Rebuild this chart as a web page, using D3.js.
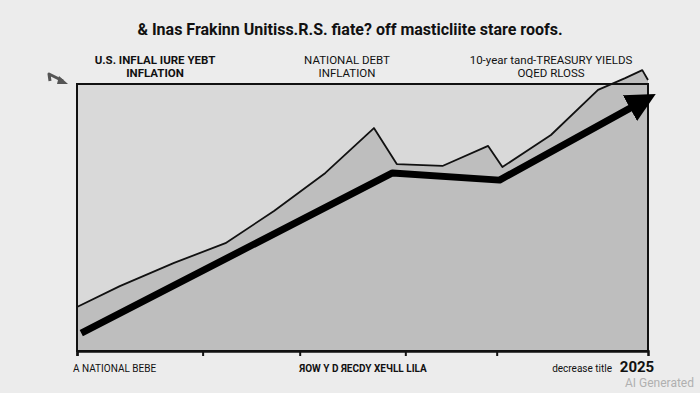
<!DOCTYPE html>
<html>
<head>
<meta charset="utf-8">
<script src="https://cdn.jsdelivr.net/npm/d3@7"></script>
<style>
  body { margin: 0; background: #ececec; }
  svg { display: block; }
  text { font-family: "Liberation Sans Narrow", "Roboto", "DejaVu Sans Condensed", sans-serif; fill: #111; }
</style>
</head>
<body>
<div id="chart"></div>
<script>
// values (x = year, y = index 0-100)
var years    = [2005, 2006.5, 2008.4, 2010.2, 2011.9, 2013.7, 2015.4, 2016.2, 2017.8, 2019.4, 2019.9, 2021.6, 2023.25, 2024.2, 2024.8, 2025];
var yields   = [16.5, 24.3, 33, 40.4, 52.4, 66.7, 83.5, 70, 69.3, 76.8, 68.9, 80.9, 97.8, 102.2, 105.2, 101.5];
var debtYears = [2005.15, 2016.05, 2019.8, 2024.55];
var debt      = [6.7, 66.7, 64, 92];
var tickYears = [2005, 2009.4, 2012.8, 2016.5, 2019.7];

var headers = [
  {x: 155, lines: ["U.S. INFLAL IURE YEBT", "INFLATION"], bold: [true, true]},
  {x: 347, lines: ["NATIONAL DEBT", "INFLATION"], bold: [false, false]},
  {x: 551, lines: ["10-year tand-TREASURY YIELDS", "OQED RLOSS"], bold: [false, false]}
];

var width = 700, height = 393;
var margin = {top: 84, right: 52, bottom: 42, left: 77};

var svg = d3.select("#chart").append("svg")
  .attr("width", width).attr("height", height);

var x = d3.scaleLinear().domain([2005, 2025]).range([margin.left, width - margin.right]);
var y = d3.scaleLinear().domain([0, 100]).range([height - margin.bottom, margin.top]);

// frame background
svg.append("rect")
  .attr("x", x(2005)).attr("y", y(100))
  .attr("width", x(2025) - x(2005)).attr("height", y(0) - y(100))
  .attr("fill", "#d9d9d9");

var pts = years.map(function(d, i){ return [d, yields[i]]; });

var area = d3.area()
  .x(function(d){ return x(d[0]); })
  .y0(y(0))
  .y1(function(d){ return y(d[1]); });

svg.append("path")
  .datum(pts)
  .attr("d", area)
  .attr("fill", "#bebebe");

svg.append("path")
  .datum(pts)
  .attr("d", d3.line().x(function(d){ return x(d[0]); }).y(function(d){ return y(d[1]); }))
  .attr("fill", "none")
  .attr("stroke", "#111")
  .attr("stroke-width", 1.8)
  .attr("stroke-linejoin", "round");

// frame
svg.append("rect")
  .attr("x", x(2005)).attr("y", y(100))
  .attr("width", x(2025) - x(2005)).attr("height", y(0) - y(100))
  .attr("fill", "none")
  .attr("stroke", "#111")
  .attr("stroke-width", 2);

// bottom axis
var axis = svg.append("g")
  .attr("transform", "translate(0," + y(0) + ")")
  .call(d3.axisBottom(x).tickValues(tickYears).tickSize(5).tickFormat(""));
axis.select(".domain").attr("stroke", "#111").attr("stroke-width", 2.5);
axis.selectAll(".tick line").attr("stroke", "#111").attr("stroke-width", 2);

// thick arrow
svg.append("defs").append("marker")
  .attr("id", "head")
  .attr("viewBox", "0 0 10 10")
  .attr("refX", 2).attr("refY", 5)
  .attr("markerWidth", 4.2).attr("markerHeight", 4.2)
  .attr("orient", "auto")
  .append("path")
  .attr("d", "M0,0 L10,5 L0,10 Z")
  .attr("fill", "#000");

var dpts = debtYears.map(function(d, i){ return [d, debt[i]]; });
svg.append("path")
  .datum(dpts)
  .attr("d", d3.line().x(function(d){ return x(d[0]); }).y(function(d){ return y(d[1]); }))
  .attr("fill", "none")
  .attr("stroke", "#000")
  .attr("stroke-width", 7)
  .attr("stroke-linejoin", "round")
  .attr("marker-end", "url(#head)");

// little hook arrow top left
svg.append("path")
  .attr("d", "M50,81 L49,74 L63,81")
  .attr("fill", "none")
  .attr("stroke", "#555")
  .attr("stroke-width", 3)
  .attr("stroke-linejoin", "round");
svg.append("path")
  .attr("d", "M59,76 L68,84 L57,84 Z")
  .attr("fill", "#555");

// title
svg.append("text")
  .attr("x", 350).attr("y", 35)
  .attr("text-anchor", "middle")
  .attr("font-size", 16).attr("font-weight", "bold")
  .text("& Inas Frakinn Unitiss.R.S. fiate? off masticliite stare roofs.");

// header labels
headers.forEach(function(h){
  h.lines.forEach(function(l, i){
    svg.append("text")
      .attr("x", h.x).attr("y", 64 + i * 13)
      .attr("text-anchor", "middle")
      .attr("font-size", 11.5)
      .attr("font-weight", h.bold[i] ? "bold" : "normal")
      .text(l);
  });
});

// bottom labels
svg.append("text").attr("x", 73).attr("y", 372)
  .attr("font-size", 10).text("A NATIONAL BEBE");
svg.append("text").attr("x", 363).attr("y", 372)
  .attr("text-anchor", "middle").attr("font-size", 10).attr("font-weight", "bold")
  .text("ЯОW Y D ЯECDY XEЧLL LILA");
svg.append("text").attr("x", 612).attr("y", 372)
  .attr("text-anchor", "end").attr("font-size", 10).text("decrease title");
svg.append("text").attr("x", 637).attr("y", 372)
  .attr("text-anchor", "middle").attr("font-size", 15).attr("font-weight", "bold")
  .text("2025");
svg.append("text").attr("x", 694).attr("y", 387)
  .attr("text-anchor", "end").attr("font-size", 12)
  .style("fill", "#b0b0b0").text("AI Generated");
</script>
</body>
</html>
